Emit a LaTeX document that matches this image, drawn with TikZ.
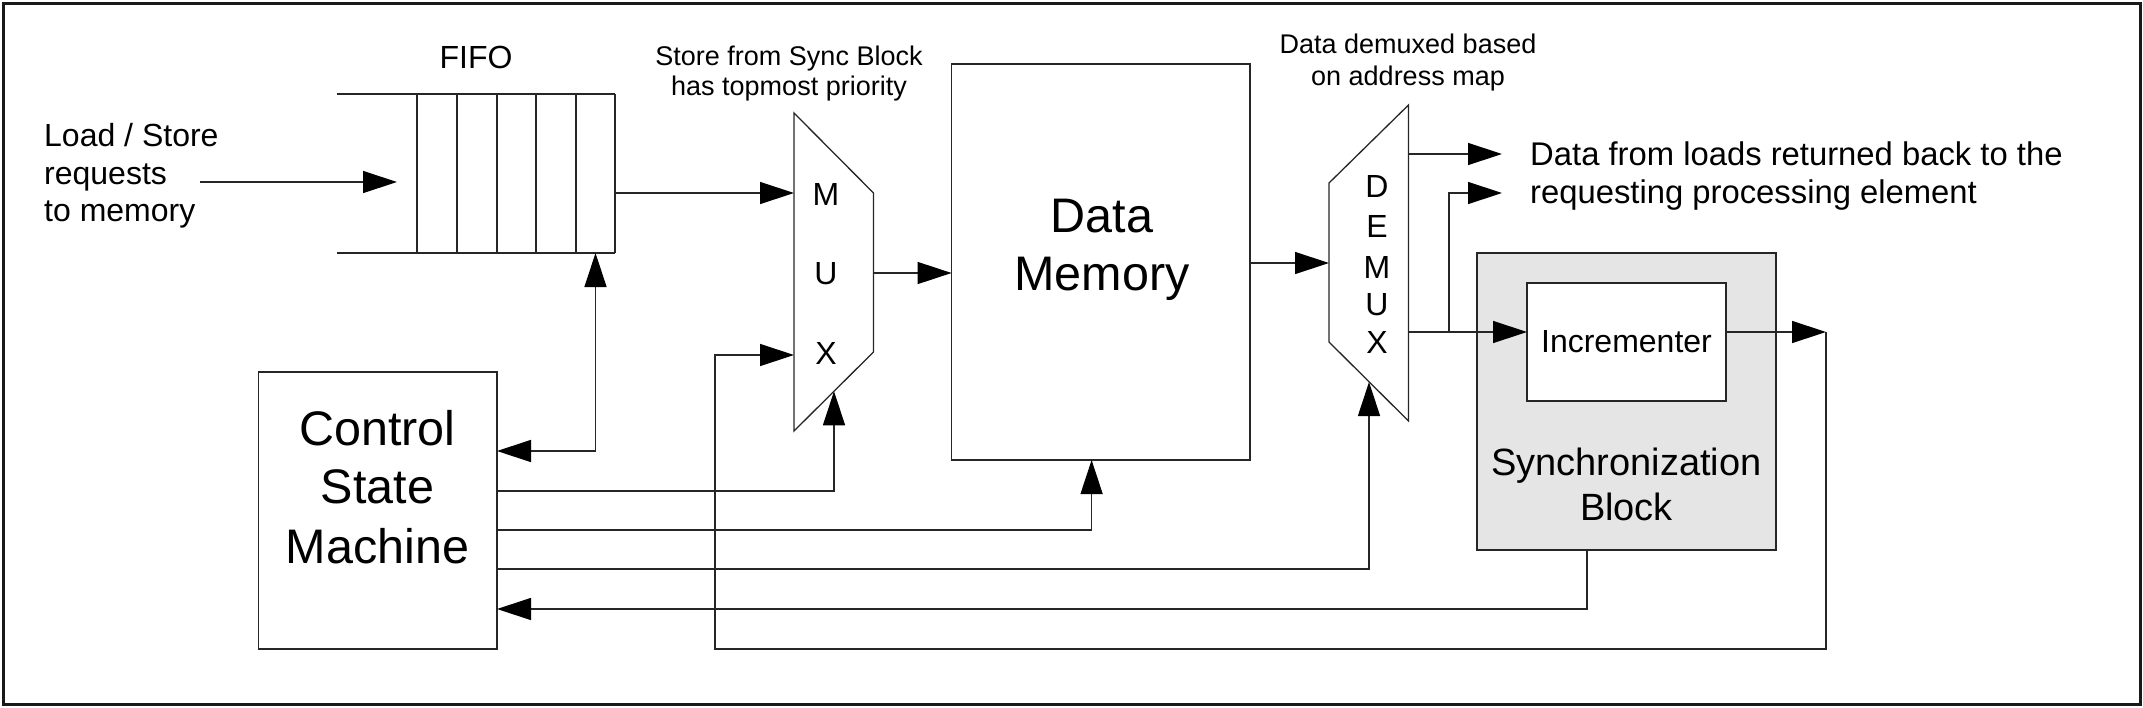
\documentclass[tikz,border=0pt]{standalone}
\usepackage{fontspec}
\setmainfont{Liberation Sans}
\usetikzlibrary{arrows.meta,calc}
\begin{document}
\begin{tikzpicture}[x=1pt,y=-1pt,
  ln/.style={line width=1.3pt, draw=black!85},
  tip/.tip={Triangle[length=34pt,width=22pt,color=black,fill=black]},
  arr/.style={ln, -tip},
  darr/.style={ln, tip-tip},
  blk/.style={ln, fill=white, inner sep=0pt, outer sep=0pt, anchor=north west},
  frame/.style={inner sep=0pt, outer sep=0pt, anchor=north west},
  txt/.style={inner sep=0pt, anchor=base, text=black},
  txtl/.style={inner sep=0pt, anchor=base west, text=black},
  fsmall/.style={font=\fontsize{27}{31}\selectfont},
  fnorm/.style={font=\fontsize{32}{38}\selectfont},
  fbig/.style={font=\fontsize{48.5}{58}\selectfont},
  fsync/.style={font=\fontsize{38}{45}\selectfont}
]
\useasboundingbox (0,0) rectangle (2143,707);
\draw[line width=3pt, draw=black!90] (3,3) rectangle (2140,704);

% ---------- FIFO ----------
\node[frame, minimum width=278pt, minimum height=159pt] (fifo) at (337,94) {};
\draw[ln] (fifo.north west) -- (fifo.north east);
\draw[ln] (fifo.south west) -- (fifo.south east);
\foreach \dx in {80,120,160,199,239,278}
  \draw[ln] ($(fifo.north west)+(\dx,0)$) -- ($(fifo.south west)+(\dx,0)$);
\node[txt, fnorm] (fifol) at (476,68) {FIFO};

% ---------- MUX ----------
\node[frame, minimum width=79.5pt, minimum height=318pt] (mux) at (794,113) {};
\draw[ln, fill=white] (mux.north west) -- ($(mux.north east)+(0,80)$) -- ($(mux.south east)+(0,-79)$) -- (mux.south west) -- cycle;
\node[txt, fnorm] (muxm) at (826,205) {M};
\node[txt, fnorm] (muxu) at (826,284.5) {U};
\node[txt, fnorm] (muxx) at (826,364.5) {X};

% ---------- Data Memory ----------
\node[blk, minimum width=298.4pt, minimum height=396pt] (dm) at (951.6,64) {};
\node[txt, fbig] (dm1) at (1102,232) {Data};
\node[txt, fbig] (dm2) at (1102,290) {Memory};

% ---------- DEMUX ----------
\node[frame, minimum width=79.5pt, minimum height=316pt] (demux) at (1329,105) {};
\draw[ln, fill=white] (demux.north east) -- (demux.south east) -- ($(demux.south west)+(0,-79)$) -- ($(demux.north west)+(0,78)$) -- cycle;
\node[txt, fnorm] (dxd) at (1377,197.5) {D};
\node[txt, fnorm] (dxe) at (1377,237.5) {E};
\node[txt, fnorm] (dxm) at (1377,278.5) {M};
\node[txt, fnorm] (dxu) at (1377,315.5) {U};
\node[txt, fnorm] (dxx) at (1377,353.5) {X};

% ---------- Control State Machine ----------
\node[blk, minimum width=238.5pt, minimum height=277pt] (csm) at (258.5,372) {};
\node[txt, fbig] (cs1t) at (377.5,445) {Control};
\node[txt, fbig] (cs2t) at (377.5,503) {State};
\node[txt, fbig] (cs3t) at (377.5,563) {Machine};

% ---------- Synchronization Block ----------
\node[blk, fill=gray!20, minimum width=299pt, minimum height=297pt] (sync) at (1477,253) {};
\node[blk, minimum width=199pt, minimum height=118pt, fnorm, text=black] (inc) at (1527,283) {Incrementer};
\node[txt, fsync] (sy1) at (1626.5,475) {Synchronization};
\node[txt, fsync] (sy2) at (1626.5,520) {Block};

% ---------- annotations ----------
\node[txtl, fnorm] (ls1) at (44,146) {Load / Store};
\node[txtl, fnorm] (ls2) at (44,184) {requests};
\node[txtl, fnorm] (ls3) at (44,221) {to memory};
\node[txt, fsmall] (sp1) at (789,65) {Store from Sync Block};
\node[txt, fsmall] (sp2) at (789,95) {has topmost priority};
\node[txt, fsmall] (dd1) at (1408,53.5) {Data demuxed based};
\node[txt, fsmall] (dd2) at (1408,85.5) {on address map};
\node[txtl, font=\fontsize{32.8}{38}\selectfont] (ol1) at (1530,165) {Data from loads returned back to the};
\node[txtl, font=\fontsize{32.8}{38}\selectfont] (ol2) at (1530,203) {requesting processing element};

% ---------- ports ----------
\coordinate (ldin) at (200,182);
\coordinate (fifoin) at (397,182);
\coordinate (fifoo) at (615,193);
\coordinate (fifoc) at (595.5,253);
\coordinate (muxo) at (873.5,273);
\coordinate (muxc) at (834,391.25);
\coordinate (muxi2) at (794,355);
\coordinate (dmo) at (1250,263);
\coordinate (dmc) at (1091.6,460);
\coordinate (dxo1) at (1408.5,154);
\coordinate (dxo2) at (1408.5,332);
\coordinate (dxc) at (1369,382);
\coordinate (br) at (1449,332);
\coordinate (out1) at (1502,154);
\coordinate (out2) at (1502,193);
\coordinate (inco) at (1726,332);
\coordinate (ret) at (1826,332);
\coordinate (retb) at (1826,649);
\coordinate (retl) at (715,649);
\coordinate (syncc) at (1587,550);
\coordinate (cs1) at ($(csm.north east)+(0,79)$);
\coordinate (cs2) at ($(csm.north east)+(0,119)$);
\coordinate (cs3) at ($(csm.north east)+(0,158)$);
\coordinate (cs4) at ($(csm.north east)+(0,197)$);
\coordinate (cs5) at ($(csm.north east)+(0,237)$);

% ---------- connectors ----------
\draw[arr] (ldin) -- (fifoin);
\draw[arr] (fifoo) -- (fifoo -| mux.west);
\draw[arr] (muxo) -- (muxo -| dm.west);
\draw[arr] (dmo) -- (dmo -| demux.west);
\draw[arr] (dxo1) -- (out1);
\draw[arr] (dxo2) -- (dxo2 -| inc.west);
\draw[arr] (br) |- (out2);
\draw[arr] (inco) -- (ret);
\draw[arr] (ret) -- (retb) -- (retl) |- (muxi2);
\draw[darr] (cs1) -| (fifoc);
\draw[arr] (cs2) -| (muxc);
\draw[arr] (cs3) -| (dmc);
\draw[arr] (cs4) -| (dxc);
\draw[arr] (syncc) |- (cs5);
\end{tikzpicture}
\end{document}
